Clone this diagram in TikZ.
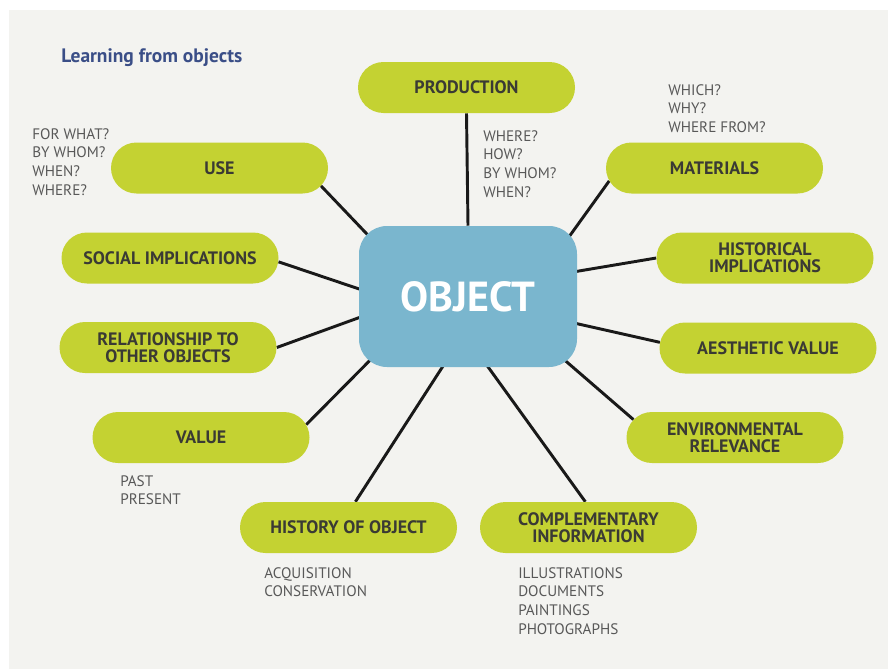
\documentclass[tikz,border=0pt]{standalone}
\usepackage{fontspec}
\setmainfont{PT Sans}
\usetikzlibrary{shapes.misc}
\definecolor{pagegrey}{RGB}{243,243,240}
\definecolor{leaf}{RGB}{196,210,50}
\definecolor{sky}{RGB}{122,182,206}
\definecolor{ink}{RGB}{58,58,52}
\definecolor{notegrey}{RGB}{88,88,88}
\definecolor{titleblue}{RGB}{58,78,135}
\pgfdeclarelayer{background}
\pgfsetlayers{background,main}
\begin{document}
\begin{tikzpicture}[x=0.75pt,y=-0.75pt,
  pill/.style={rounded rectangle, fill=leaf, minimum width=162.75pt,
    minimum height=38.25pt, inner sep=0pt, text=ink, align=center,
    font=\bfseries\fontsize{13.5}{12.75}\selectfont},
  core/.style={rectangle, rounded corners=21pt, fill=sky,
    minimum width=163.5pt, minimum height=105.75pt, inner sep=0pt,
    text=white, font=\bfseries\fontsize{31.5}{31.5}\selectfont},
  annot/.style={anchor=north west, inner sep=0pt, text=notegrey, align=left,
    font=\fontsize{11.4}{14}\selectfont},
  link/.style={draw=black!90, line width=2.2pt, shorten >=-14pt}
]
% page
\useasboundingbox (0,0) rectangle (888,671);
\begin{pgfonlayer}{background}
  \fill[white] (0,0) rectangle (888,671);
  \fill[pagegrey] (9,10) rectangle (888,669);
\end{pgfonlayer}

% title
\node[anchor=base west, inner sep=0pt, text=titleblue,
  font=\bfseries\fontsize{14.6}{16}\selectfont] (title) at (61,62) {Learning from objects};

% centre
\node[core] (obj) at (468,296.5) {OBJECT};

% aspects
\node[pill] (prod) at (466.5,87.5) {PRODUCTION};
\node[pill] (use)  at (219.5,168) {USE};
\node[pill] (mat)  at (714.5,168) {MATERIALS};
\node[pill] (soc)  at (170,258) {SOCIAL IMPLICATIONS};
\node[pill] (hist) at (765,258) {HISTORICAL\\IMPLICATIONS};
\node[pill] (rel)  at (168,347.5) {RELATIONSHIP TO\\OTHER OBJECTS};
\node[pill] (aes)  at (768,348) {AESTHETIC VALUE};
\node[pill] (val)  at (201,437.5) {VALUE};
\node[pill] (env)  at (735,437.5) {ENVIRONMENTAL\\RELEVANCE};
\node[pill] (hob)  at (348.5,527.5) {HISTORY OF OBJECT};
\node[pill] (comp) at (588.5,527.5) {COMPLEMENTARY\\INFORMATION};

% questions and examples
\node[annot] (useq)  at (32,128)  {FOR WHAT?\\BY WHOM?\\WHEN?\\WHERE?};
\node[annot] (prodq) at (483,130) {WHERE?\\HOW?\\BY WHOM?\\WHEN?};
\node[annot] (matq)  at (668,84)  {WHICH?\\WHY?\\WHERE FROM?};
\node[annot] (valq)  at (120,475) {PAST\\PRESENT};
\node[annot] (hobq)  at (264,567) {ACQUISITION\\CONSERVATION};
\node[annot] (compq) at (518,567) {ILLUSTRATIONS\\DOCUMENTS\\PAINTINGS\\PHOTOGRAPHS};

% connectors, drawn beneath the boxes
\begin{pgfonlayer}{background}
  \draw[link, shorten >=0pt] (prod.south) -- (obj.north);
  \draw[link] (use.-10.2)  -- (obj.147.2);
  \draw[link] (soc.-2.6)   -- (obj.176.6);
  \draw[link] (rel.0)      -- (obj.191.2);
  \draw[link] (val.7.8)    -- (obj.214.6);
  \draw[link] (hob.75.7)   -- (obj.250.7);
  \draw[link] (comp.97.8)  -- (obj.286.4);
  \draw[link] (env.170.3)  -- (obj.-34.3);
  \draw[link] (aes.177.3)  -- (obj.-14.2);
  \draw[link] (hist.180)   -- (obj.13.7);
  \draw[link] (mat.187.5)  -- (obj.33.5);
\end{pgfonlayer}
\end{tikzpicture}
\end{document}
